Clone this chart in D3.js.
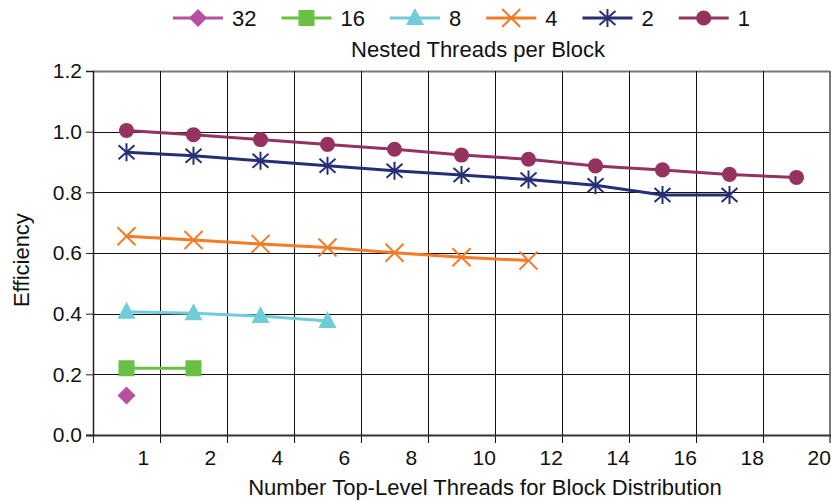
<!DOCTYPE html>
<html>
<head>
<meta charset="utf-8">
<script src="https://cdn.jsdelivr.net/npm/d3@7"></script>
<style>
  body { margin: 0; background: #fff; }
  text { font-family: "Liberation Sans", Arial, sans-serif; fill: #111; }
</style>
</head>
<body>
<div></div>
<script>
const width = 831;
const height = 501;
const margin = { top: 71, right: 1, bottom: 66, left: 93 };

// x categories (top-level threads) and y ticks
const categories = ["1", "2", "4", "6", "8", "10", "12", "14", "16", "18", "20"];
const yTicks = [0, 0.2, 0.4, 0.6, 0.8, 1.0, 1.2];

// efficiency per nested threads per block
const seriesNames = ["32", "16", "8", "4", "2", "1"];
const eff32 = [0.13];
const eff16 = [0.22, 0.22];
const eff8 = [0.406, 0.401, 0.392, 0.376];
const eff4 = [0.655, 0.643, 0.63, 0.618, 0.601, 0.586, 0.575];
const eff2 = [0.932, 0.921, 0.904, 0.888, 0.871, 0.857, 0.842, 0.823, 0.791, 0.791];
const eff1 = [1.004, 0.99, 0.974, 0.958, 0.942, 0.923, 0.909, 0.887, 0.874, 0.859, 0.849];

const colors = ["#b5519f", "#6abf45", "#6fcdd8", "#f47b28", "#262f75", "#96325f"];
const markers = ["diamond", "square", "triangle", "cross", "star", "circle"];

const series = [eff32, eff16, eff8, eff4, eff2, eff1].map((vals, i) => ({
  name: seriesNames[i],
  color: colors[i],
  marker: markers[i],
  points: vals.map((v, j) => ({ cat: categories[j], v: v })),
}));

const svg = d3
  .select("div")
  .append("svg")
  .attr("width", width)
  .attr("height", height);

const x = d3
  .scaleBand()
  .domain(categories)
  .range([margin.left, width - margin.right]);

const y = d3
  .scaleLinear()
  .domain([0, 1.2])
  .range([height - margin.bottom, margin.top]);

// marker shapes
function markerPath(type) {
  if (type === "circle") return d3.symbol(d3.symbolCircle, 180)();
  if (type === "square") return "M-8,-8H8V8H-8Z";
  if (type === "diamond") return "M0,-9L9,0L0,9L-9,0Z";
  if (type === "triangle") return "M0,-10L9,7H-9Z";
  if (type === "cross") return "M-9,-9L9,9M-9,9L9,-9";
  if (type === "star") return "M0,-9V9M-8,-7L8,7M-8,7L8,-7";
}
function drawMarker(g, type, color) {
  const filled = type === "circle" || type === "square" || type === "diamond" || type === "triangle";
  g.append("path")
    .attr("d", markerPath(type))
    .attr("fill", filled ? color : "none")
    .attr("stroke", filled ? "none" : color)
    .attr("stroke-width", 2);
}

// grid
svg
  .append("g")
  .selectAll("line")
  .data(yTicks)
  .enter()
  .append("line")
  .attr("x1", margin.left)
  .attr("x2", width - margin.right)
  .attr("y1", (d) => Math.round(y(d)) + 0.5)
  .attr("y2", (d) => Math.round(y(d)) + 0.5)
  .attr("stroke", (d) => (d === 1.2 ? "#777" : "#111"))
  .attr("stroke-width", (d) => (d === 1.2 ? 2 : 1));

svg
  .append("g")
  .selectAll("line")
  .data(categories.slice(1))
  .enter()
  .append("line")
  .attr("x1", (d) => Math.round(x(d)) + 0.5)
  .attr("x2", (d) => Math.round(x(d)) + 0.5)
  .attr("y1", y(1.2))
  .attr("y2", y(0) + 8)
  .attr("stroke", "#111")
  .attr("stroke-width", 1);

// right frame edge
svg
  .append("line")
  .attr("x1", width - 1)
  .attr("x2", width - 1)
  .attr("y1", y(1.2))
  .attr("y2", y(0) + 8)
  .attr("stroke", "#777")
  .attr("stroke-width", 2);

// y axis
const yAxis = d3
  .axisLeft(y)
  .tickValues(yTicks)
  .tickFormat(d3.format(".1f"))
  .tickSize(7)
  .tickPadding(4);

const yg = svg
  .append("g")
  .attr("transform", "translate(" + margin.left + ",0)")
  .call(yAxis);
yg.select(".domain").attr("stroke", "#222").attr("stroke-width", 1.5);
yg.selectAll(".tick line").attr("stroke", "#222");
yg.selectAll("text").style("font-size", "21px").attr("fill", "#111");

// x axis: ticks at category boundaries, labels offset to the right of center
const xg = svg.append("g");
xg.append("line")
  .attr("x1", margin.left - 7)
  .attr("x2", width)
  .attr("y1", y(0) + 0.5)
  .attr("y2", y(0) + 0.5)
  .attr("stroke", "#333")
  .attr("stroke-width", 2);
xg.append("line")
  .attr("x1", margin.left + 0.5)
  .attr("x2", margin.left + 0.5)
  .attr("y1", y(0))
  .attr("y2", y(0) + 8)
  .attr("stroke", "#222");
xg.selectAll("text")
  .data(categories)
  .enter()
  .append("text")
  .attr("x", (d) => x(d) + x.bandwidth() / 2 + 11)
  .attr("y", y(0) + 30)
  .attr("text-anchor", "start")
  .style("font-size", "21px")
  .text((d) => d);

// axis titles
svg
  .append("text")
  .attr("x", 485)
  .attr("y", 495)
  .attr("text-anchor", "middle")
  .style("font-size", "22px")
  .text("Number Top-Level Threads for Block Distribution");

svg
  .append("text")
  .attr("transform", "translate(29,260) rotate(-90)")
  .attr("text-anchor", "middle")
  .style("font-size", "22px")
  .text("Efficiency");

// lines and markers
const line = d3
  .line()
  .x((d) => x(d.cat) + x.bandwidth() / 2)
  .y((d) => y(d.v));

const sg = svg
  .selectAll(".series")
  .data(series)
  .enter()
  .append("g")
  .attr("class", "series");

sg.append("path")
  .attr("d", (d) => line(d.points))
  .attr("fill", "none")
  .attr("stroke", (d) => d.color)
  .attr("stroke-width", 3);

sg.each(function (s) {
  d3.select(this)
    .selectAll(".pt")
    .data(s.points)
    .enter()
    .append("g")
    .attr("class", "pt")
    .attr("transform", (d) => "translate(" + (x(d.cat) + x.bandwidth() / 2) + "," + y(d.v) + ")")
    .each(function () {
      drawMarker(d3.select(this), s.marker, s.color);
    });
});

// legend
const legend = svg.append("g");
let lx = 173;
series.forEach((s) => {
  const item = legend.append("g").attr("transform", "translate(" + lx + ",18)");
  item.append("line")
    .attr("x1", 0)
    .attr("x2", 50)
    .attr("stroke", s.color)
    .attr("stroke-width", 3);
  drawMarker(item.append("g").attr("transform", "translate(25,0)"), s.marker, s.color);
  const t = item.append("text")
    .attr("x", 59)
    .attr("y", 8)
    .style("font-size", "22px")
    .text(s.name);
  lx += 59 + t.node().getComputedTextLength() + 25;
});

svg
  .append("text")
  .attr("x", 478)
  .attr("y", 57)
  .attr("text-anchor", "middle")
  .style("font-size", "22px")
  .text("Nested Threads per Block");
</script>
</body>
</html>
